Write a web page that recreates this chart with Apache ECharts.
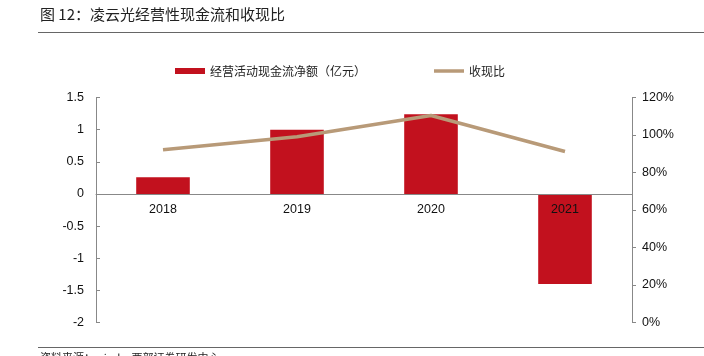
<!DOCTYPE html>
<html><head><meta charset="utf-8">
<script src="https://cdn.jsdelivr.net/npm/echarts@6/dist/echarts.min.js"></script>
<style>html,body{margin:0;padding:0;background:#fff}#c{width:704px;height:356px}</style>
</head><body><div id="c"></div>
<script>
const categories = ['2018', '2019', '2020', '2021'];
const cashFlow = [0.26, 1.0, 1.24, -1.40];
const cashRatio = [0.921, 0.991, 1.104, 0.912];
const leftTicks = [-2, 1.5, 0.5];
const rightTicks = [0, 1.2, 0.2];
const seriesNames = ['经营活动现金流净额（亿元）', '收现比'];
const titleText = '图 12：凌云光经营性现金流和收现比';
const sourceText = '资料来源：wind，西部证券研发中心';

const chart = echarts.init(document.getElementById('c'), null, {renderer: 'canvas'});
const font = '"Noto Sans CJK SC", "Liberation Sans", sans-serif';
const gridTop = 97.5, gridBottom = 33.5, H = 356;
const plotH = H - gridTop - gridBottom;
const zeroOffset = plotH * (0 - leftTicks[0]) / (leftTicks[1] - leftTicks[0]);
chart.setOption({
  animation: false,
  textStyle: {fontFamily: font},
  graphic: [
    {type: 'text', left: 40, top: 7, style: {text: titleText, font: '15px ' + font, fill: '#222'}},
    {type: 'line', shape: {x1: 38, y1: 32.5, x2: 704, y2: 32.5}, style: {stroke: '#666', lineWidth: 1}},
    {type: 'line', shape: {x1: 38, y1: 347.5, x2: 704, y2: 347.5}, style: {stroke: '#666', lineWidth: 1}},
    {type: 'text', left: 40, top: 352, style: {text: sourceText, font: '11px ' + font, fill: '#222'}}
  ],
  legend: {
    left: 170, top: 60,
    itemWidth: 30, itemHeight: 6, itemGap: 68,
    symbolKeepAspect: true,
    textStyle: {fontSize: 12, color: '#222', fontFamily: font},
    data: [{name: seriesNames[0], icon: 'rect'},
           {name: seriesNames[1], icon: 'path://M0,0H30V3.5H0Z'}]
  },
  grid: {left: 96, right: 72, top: gridTop, bottom: gridBottom, containLabel: false},
  xAxis: {
    type: 'category', data: categories, z: 10,
    offset: -zeroOffset,
    axisLine: {onZero: false, lineStyle: {color: '#888'}},
    axisTick: {inside: true, length: 4, lineStyle: {color: '#888'}},
    axisLabel: {color: '#111', fontSize: 12.5, margin: 9, fontFamily: 'Liberation Sans'}
  },
  yAxis: [
    {
      type: 'value', min: leftTicks[0], max: leftTicks[1], interval: leftTicks[2],
      axisLine: {show: true, lineStyle: {color: '#888'}},
      axisTick: {show: true, inside: true, length: 4, lineStyle: {color: '#888'}},
      axisLabel: {color: '#111', fontSize: 12.5, margin: 12, fontFamily: 'Liberation Sans'},
      splitLine: {show: false}
    },
    {
      type: 'value', min: rightTicks[0], max: rightTicks[1], interval: rightTicks[2],
      axisLine: {show: true, lineStyle: {color: '#888'}},
      axisTick: {show: true, inside: false, length: 4, lineStyle: {color: '#888'}},
      axisLabel: {color: '#111', fontSize: 12.5, margin: 10, fontFamily: 'Liberation Sans',
        formatter: v => Math.round(v * 100) + '%'},
      splitLine: {show: false}
    }
  ],
  series: [
    {name: seriesNames[0], type: 'bar', data: cashFlow, barWidth: '40%', yAxisIndex: 0,
     itemStyle: {color: '#C2111E'}},
    {name: seriesNames[1], type: 'line', data: cashRatio, yAxisIndex: 1, symbol: 'none',
     lineStyle: {color: '#B89A78', width: 3.5}, itemStyle: {color: '#B89A78'}, z: 5}
  ]
});
</script></body></html>
